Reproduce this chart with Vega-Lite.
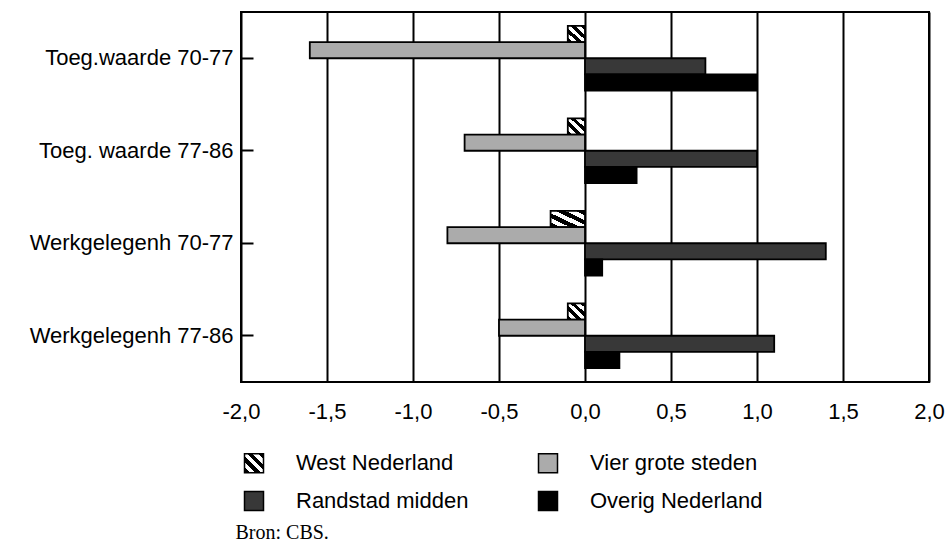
{
  "$schema": "https://vega.github.io/schema/vega-lite/v6.json",
  "width": 688,
  "height": 370,
  "autosize": {"type": "none"},
  "padding": {"left": 241, "top": 12, "right": 17, "bottom": 163},
  "background": "white",
  "config": {
    "view": {"stroke": "black", "strokeWidth": 2},
    "font": "Liberation Sans"
  },
  "data": {
    "values": [
      {"category": "Toeg.waarde 70-77", "region": "West Nederland", "value": -0.1},
      {"category": "Toeg.waarde 70-77", "region": "Vier grote steden", "value": -1.6},
      {"category": "Toeg.waarde 70-77", "region": "Randstad midden", "value": 0.7},
      {"category": "Toeg.waarde 70-77", "region": "Overig Nederland", "value": 1.0},
      {"category": "Toeg. waarde 77-86", "region": "West Nederland", "value": -0.1},
      {"category": "Toeg. waarde 77-86", "region": "Vier grote steden", "value": -0.7},
      {"category": "Toeg. waarde 77-86", "region": "Randstad midden", "value": 1.0},
      {"category": "Toeg. waarde 77-86", "region": "Overig Nederland", "value": 0.3},
      {"category": "Werkgelegenh 70-77", "region": "West Nederland", "value": -0.2},
      {"category": "Werkgelegenh 70-77", "region": "Vier grote steden", "value": -0.8},
      {"category": "Werkgelegenh 70-77", "region": "Randstad midden", "value": 1.4},
      {"category": "Werkgelegenh 70-77", "region": "Overig Nederland", "value": 0.1},
      {"category": "Werkgelegenh 77-86", "region": "West Nederland", "value": -0.1},
      {"category": "Werkgelegenh 77-86", "region": "Vier grote steden", "value": -0.5},
      {"category": "Werkgelegenh 77-86", "region": "Randstad midden", "value": 1.1},
      {"category": "Werkgelegenh 77-86", "region": "Overig Nederland", "value": 0.2}
    ]
  },
  "mark": {"type": "bar", "stroke": "black", "strokeWidth": 1.8, "opacity": 1},
  "encoding": {
    "y": {
      "field": "category",
      "type": "nominal",
      "sort": ["Toeg.waarde 70-77", "Toeg. waarde 77-86", "Werkgelegenh 70-77", "Werkgelegenh 77-86"],
      "scale": {"paddingInner": 0.3, "paddingOuter": 0.15},
      "axis": {
        "title": null,
        "domain": false,
        "grid": false,
        "ticks": true,
        "tickSize": -12,
        "tickColor": "black",
        "tickWidth": 2,
        "labelPadding": 20,
        "labelLimit": 400,
        "labelFont": "Liberation Sans",
        "labelFontSize": 22,
        "labelColor": "black"
      }
    },
    "yOffset": {
      "field": "region",
      "type": "nominal",
      "sort": ["West Nederland", "Vier grote steden", "Randstad midden", "Overig Nederland"],
      "scale": {"paddingInner": 0, "paddingOuter": 0}
    },
    "x": {
      "field": "value",
      "type": "quantitative",
      "scale": {"domain": [-2, 2], "nice": false, "zero": false},
      "axis": {
        "values": [-2, -1.5, -1, -0.5, 0, 0.5, 1, 1.5, 2],
        "labelExpr": "replace(replace(format(datum.value, '.1f'), '.', ','), '\u2212', '-')",
        "grid": true,
        "gridColor": "black",
        "gridWidth": 2,
        "gridOpacity": 1,
        "domain": false,
        "ticks": false,
        "labelPadding": 19,
        "labelFont": "Liberation Sans",
        "labelFontSize": 22,
        "labelColor": "black",
        "labelFlush": false,
        "labelOverlap": false,
        "title": "Bron: CBS.",
        "titleX": -6,
        "titleY": 156,
        "titleAnchor": "start",
        "titleAlign": "left",
        "titleBaseline": "alphabetic",
        "titleFont": "Liberation Serif",
        "titleFontSize": 20,
        "titleFontWeight": "normal",
        "titleColor": "black"
      }
    },
    "color": {
      "field": "region",
      "type": "nominal",
      "scale": {
        "domain": ["West Nederland", "Vier grote steden", "Randstad midden", "Overig Nederland"],
        "range": [
          {"expr": "{gradient: 'linear', x1: 0, y1: 1, x2: 1, y2: 0, stops: [{offset: 0, color: '#000'}, {offset: 0.14, color: '#000'}, {offset: 0.14, color: '#fff'}, {offset: 0.28, color: '#fff'}, {offset: 0.28, color: '#000'}, {offset: 0.43, color: '#000'}, {offset: 0.43, color: '#fff'}, {offset: 0.57, color: '#fff'}, {offset: 0.57, color: '#000'}, {offset: 0.71, color: '#000'}, {offset: 0.71, color: '#fff'}, {offset: 0.86, color: '#fff'}, {offset: 0.86, color: '#000'}, {offset: 1, color: '#000'}]}"},
          "#ababab",
          "#383838",
          "#000000"
        ]
      },
      "legend": {
        "title": null,
        "orient": "none",
        "legendX": 2,
        "legendY": 440,
        "columns": 2,
        "direction": "horizontal",
        "padding": 0,
        "symbolType": "square",
        "symbolSize": 361,
        "symbolStrokeColor": "black",
        "symbolStrokeWidth": 1.5,
        "symbolOpacity": 1,
        "labelFont": "Liberation Sans",
        "labelFontSize": 22,
        "labelColor": "black",
        "labelOffset": 31,
        "labelLimit": 400,
        "rowPadding": 12,
        "columnPadding": 66
      }
    }
  }
}
